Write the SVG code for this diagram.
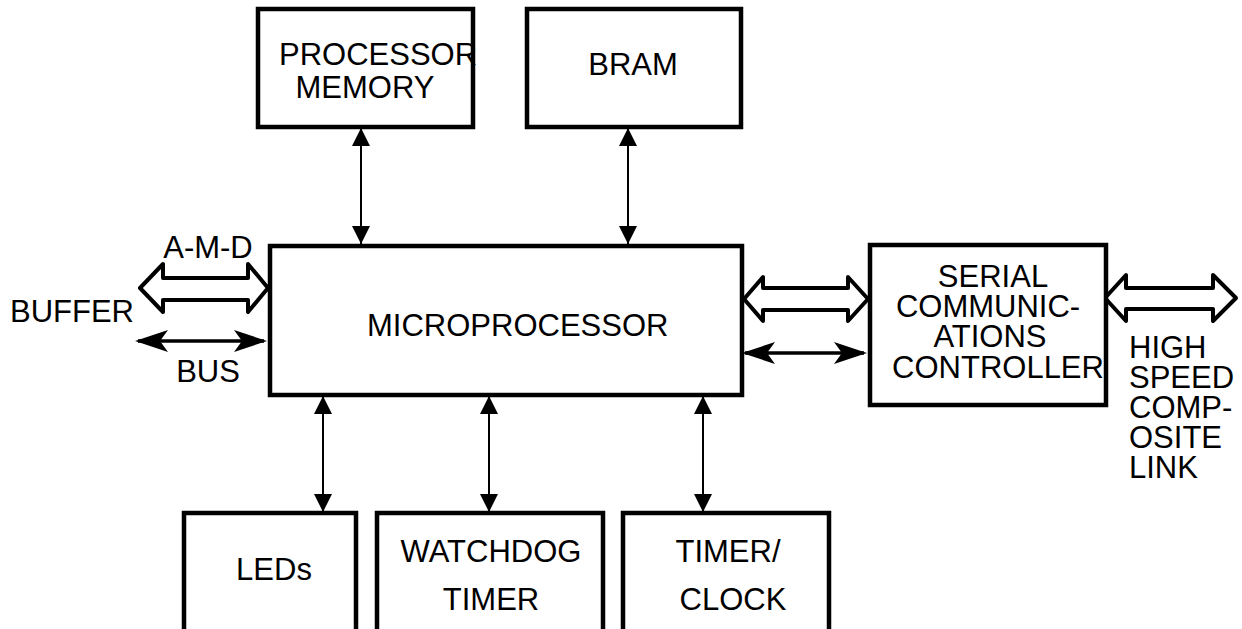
<svg xmlns="http://www.w3.org/2000/svg" width="1242" height="629" viewBox="0 0 1242 629">
<style>
.box{fill:#fff;stroke:#000;stroke-width:4.5}
.t{font-family:"Liberation Sans",Arial,sans-serif;font-size:31px;fill:#000}
.m{text-anchor:middle}
.thin{stroke:#000;stroke-width:2;fill:none}
.bus{stroke:#000;stroke-width:3.5;fill:none}
.wide{fill:#fff;stroke:#000;stroke-width:4;stroke-linejoin:round}
</style>
<defs>
<marker id="tri" viewBox="0 0 18 18" refX="18" refY="9" markerWidth="18" markerHeight="18" markerUnits="userSpaceOnUse" orient="auto-start-reverse">
<path d="M0,0 L18,9 L0,18 z" fill="#000"/>
</marker>
<marker id="swept" viewBox="0 0 33 22" refX="30" refY="11" markerWidth="33" markerHeight="22" markerUnits="userSpaceOnUse" orient="auto-start-reverse">
<path d="M0,0 L33,11 L0,22 L8,11 z" fill="#000"/>
</marker>
</defs>
<rect width="1242" height="629" fill="#fff"/>
<g id="connectors">
<line class="thin" x1="361" y1="128" x2="361" y2="244" marker-start="url(#tri)" marker-end="url(#tri)"/>
<line class="thin" x1="628" y1="128" x2="628" y2="244" marker-start="url(#tri)" marker-end="url(#tri)"/>
<line class="thin" x1="323" y1="396" x2="323" y2="512" marker-start="url(#tri)" marker-end="url(#tri)"/>
<line class="thin" x1="489" y1="396" x2="489" y2="512" marker-start="url(#tri)" marker-end="url(#tri)"/>
<line class="thin" x1="703" y1="396" x2="703" y2="512" marker-start="url(#tri)" marker-end="url(#tri)"/>
<line class="bus" x1="138" y1="341" x2="264" y2="341" marker-start="url(#swept)" marker-end="url(#swept)"/>
<line class="bus" x1="745" y1="353" x2="864" y2="353" marker-start="url(#swept)" marker-end="url(#swept)"/>
<polygon class="wide" points="140,288 163,264 163,278 248,278 248,264 268,288 248,312 248,300 163,300 163,312"/>
<polygon class="wide" points="744,299 763,277 763,288 848,288 848,277 868,299 848,321 848,310 763,310 763,321"/>
<polygon class="wide" points="1105,298 1126,275 1126,288 1213,288 1213,275 1236,298 1213,321 1213,309 1126,309 1126,321"/>
</g>
<g id="processor-memory">
<rect class="box" x="258" y="9" width="215" height="118"/>
<text class="t" x="279" y="65">PROCESSOR</text>
<text class="t m" x="365" y="98">MEMORY</text>
</g>
<g id="bram">
<rect class="box" x="527" y="9" width="214" height="118"/>
<text class="t m" x="633" y="75">BRAM</text>
</g>
<g id="microprocessor">
<rect class="box" x="270" y="246" width="472" height="149"/>
<text class="t" x="367" y="336">MICROPROCESSOR</text>
</g>
<g id="serial-controller">
<rect class="box" x="870" y="245" width="236" height="160"/>
<text class="t m" x="993" y="287">SERIAL</text>
<text class="t m" x="988" y="317">COMMUNIC-</text>
<text class="t m" x="990" y="347">ATIONS</text>
<text class="t m" x="998" y="378">CONTROLLER</text>
</g>
<g id="leds">
<rect class="box" x="184" y="513" width="172" height="140"/>
<text class="t m" x="274" y="580">LEDs</text>
</g>
<g id="watchdog-timer">
<rect class="box" x="377" y="513" width="226" height="140"/>
<text class="t m" x="491" y="562">WATCHDOG</text>
<text class="t m" x="491" y="610">TIMER</text>
</g>
<g id="timer-clock">
<rect class="box" x="623" y="513" width="206" height="140"/>
<text class="t m" x="728" y="562">TIMER/</text>
<text class="t m" x="733" y="610">CLOCK</text>
</g>
<g id="labels">
<text class="t m" x="208" y="258">A-M-D</text>
<text class="t" x="10" y="322">BUFFER</text>
<text class="t m" x="208" y="382">BUS</text>
<text class="t" x="1129" y="358">HIGH</text>
<text class="t" x="1129" y="388">SPEED</text>
<text class="t" x="1129" y="418">COMP-</text>
<text class="t" x="1129" y="448">OSITE</text>
<text class="t" x="1129" y="478">LINK</text>
</g>
</svg>
